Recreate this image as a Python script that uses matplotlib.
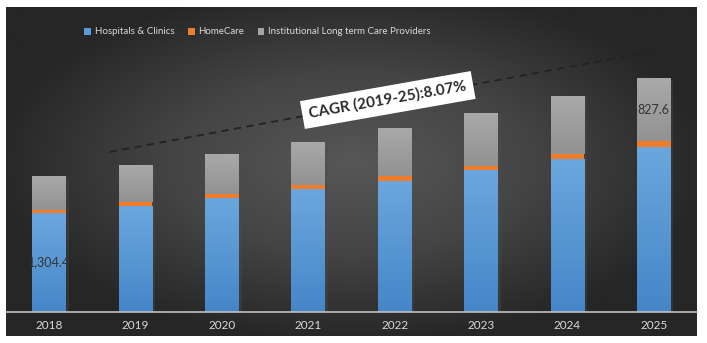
import numpy as np
import matplotlib
matplotlib.use("Agg")
import matplotlib.pyplot as plt
from matplotlib.patches import Patch
from matplotlib.colors import LinearSegmentedColormap
from matplotlib import patheffects

# ---------- DATA ----------
years = ["2018", "2019", "2020", "2021", "2022", "2023", "2024", "2025"]
hospitals = [1304.4, 1401, 1506, 1621, 1727, 1872, 2017, 2175]
homecare = [40, 46, 49, 52, 62, 55, 66, 78]
institutional = [448, 488, 527, 567, 633, 702, 768, 827.6]
series_names = ["Hospitals & Clinics", "HomeCare", "Institutional Long term Care Providers"]
labels_shown = {(0, 0): "1,304.4", (2, 7): "827.6"}  # (series, year index)
cagr_text = "CAGR (2019-25):8.07%"

plt.rcParams["font.family"] = ["Lato", "DejaVu Sans"]

W, H = 707, 343
fig = plt.figure(figsize=(W / 100, H / 100), dpi=100)
fig.patch.set_facecolor("white")

# ---------- BACKGROUND PANEL ----------
pl, pr, pt, pb = 6, 697, 7, 336
bg = fig.add_axes([pl / W, (H - pb) / H, (pr - pl) / W, (pb - pt) / H])
gx, gy = np.meshgrid(np.linspace(-1, 1, 400), np.linspace(-1, 1, 200))
r = np.sqrt((gx / 1.05) ** 2 + ((gy + 0.05) / 1.1) ** 2)
bg_cmap = LinearSegmentedColormap.from_list("bg", ["#575757", "#444444", "#262626"])
bg.imshow(np.clip(r, 0, 1), cmap=bg_cmap, aspect="auto", extent=[0, 1, 0, 1])
bg.set_axis_off()

# ---------- MAIN AXES ----------
base_px, top_px = 312, 40
ax = fig.add_axes([pl / W, (H - base_px) / H, (pr - pl) / W, (base_px - top_px) / H])
ax.set_facecolor("none")

x = np.arange(len(years))
bw = 0.39
hosp = np.array(hospitals)
home = np.array(homecare)
inst = np.array(institutional)

grad = np.linspace(0, 1, 100).reshape(-1, 1)
blue_cmap = LinearSegmentedColormap.from_list("b", ["#4686c8", "#6ba7de"])
gray_cmap = LinearSegmentedColormap.from_list("g", ["#929292", "#a9a9a9"])

def grad_bars(bottoms, heights, cmap, z):
    bars = ax.bar(x, heights, bw, bottom=bottoms, color="none", zorder=z)
    for b in bars:
        x0, y0 = b.get_x(), b.get_y()
        im = ax.imshow(grad, cmap=cmap, aspect="auto", origin="lower", zorder=z,
                       extent=[x0, x0 + b.get_width(), y0, y0 + b.get_height()])
        im.set_clip_path(b)
    return bars

# soft shadow behind each stack
sh = ax.bar(x, hosp + home + inst, bw, color="#808080", zorder=1)
for b in sh:
    b.set_path_effects([patheffects.SimplePatchShadow(offset=(2, -1), alpha=0.35)])
    b.set_alpha(0.0)
grad_bars(0, hosp, blue_cmap, 2)
ax.bar(x, home, bw, bottom=hosp, color="#f07c2a", zorder=2)
grad_bars(hosp + home, inst, gray_cmap, 2)
ax.set_xlim(-0.5, len(years) - 0.5)
ax.set_ylim(0, (base_px - top_px) * 13.18)

# data labels
for (s, i), txt in labels_shown.items():
    if s == 0:
        yv = hosp[i] * 0.5
    else:
        yv = hosp[i] + home[i] + inst[i] * 0.5
    ax.text(x[i], yv, txt, ha="center", va="center", fontsize=9, color="#333333", zorder=5)

# CAGR line and box
ax.plot([0.70, 6.95], [2109, 3427], ls=(0, (4, 3)), color="#222222", lw=1.3, zorder=3)
ax.text(3.92, 2794, cagr_text, rotation=10, ha="center", va="center", fontsize=11,
        fontweight="bold", color="#2b2b2b", zorder=6,
        bbox=dict(boxstyle="square,pad=0.45", fc="white", ec="none"))

# axes styling
for s in ["top", "right", "left"]:
    ax.spines[s].set_visible(False)
ax.spines["bottom"].set_color("#bfbfbf")
ax.spines["bottom"].set_linewidth(1.2)
ax.set_yticks([])
ax.set_xticks(x)
ax.set_xticklabels(years, color="#d9d9d9", fontsize=8.5)
ax.tick_params(axis="x", length=0, pad=6)

# legend
handles = [Patch(fc="#5b9bd5"), Patch(fc="#ed7d31"), Patch(fc="#a5a5a5")]
leg = fig.legend(handles, series_names, loc="center", bbox_to_anchor=(0.364, 1 - 32 / H),
                 ncol=3, frameon=False, handlelength=0.7, handleheight=0.7,
                 handletextpad=0.35, columnspacing=1.4, fontsize=7)
for t in leg.get_texts():
    t.set_color("#d9d9d9")

fig.savefig("out.png", dpi=100, facecolor="white")
